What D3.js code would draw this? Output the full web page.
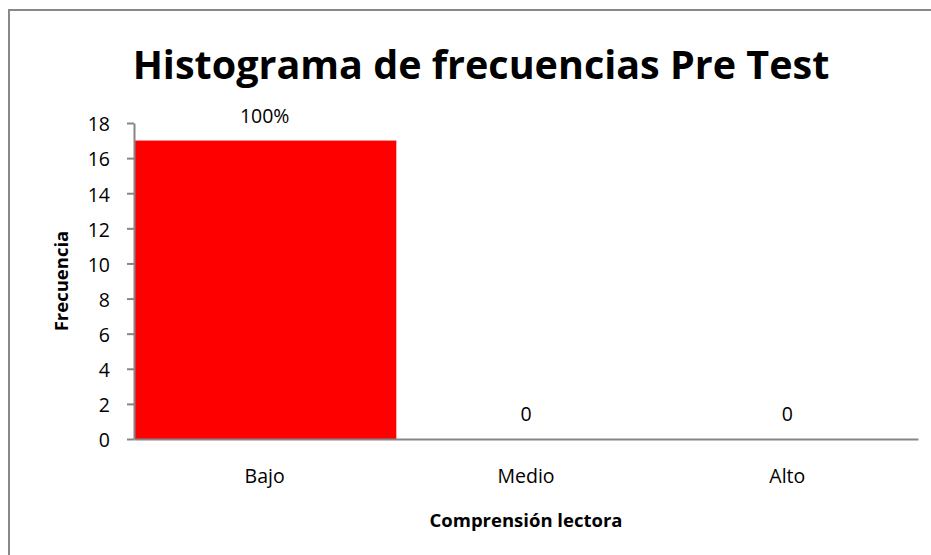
<!DOCTYPE html>
<html>
<head>
<meta charset="utf-8">
<script src="https://cdn.jsdelivr.net/npm/d3@7"></script>
<style>
  body { margin: 0; background: #fff; }
  svg { display: block; font-family: "Open Sans", "Noto Sans", sans-serif; }
</style>
</head>
<body>
<div id="chart"></div>
<script>
// data
var categories = ['Bajo', 'Medio', 'Alto'];
var frecuencias = [17, 0, 0];
var etiquetas = ['100%', '0', '0'];
var yTicks = [0, 2, 4, 6, 8, 10, 12, 14, 16, 18];

var W = 931, H = 555;
var plotLeft = 134, plotRight = 918, plotTop = 123, plotBottom = 439;

var svg = d3.select('#chart').append('svg')
            .attr('width', W)
            .attr('height', H);

svg.append('rect').attr('width', W).attr('height', H).attr('fill', '#fff');

// chart border (runs off right/bottom edge)
svg.append('rect')
   .attr('x', 9).attr('y', 10)
   .attr('width', W + 10).attr('height', H + 10)
   .attr('fill', 'none')
   .attr('stroke', '#888')
   .attr('stroke-width', 2);

var x = d3.scaleBand().domain(categories).range([plotLeft, plotRight]).padding(0);
var y = d3.scaleLinear().domain([0, 18]).range([plotBottom, plotTop]);

// bars
svg.append('g').selectAll('rect')
   .data(categories)
   .enter()
   .append('rect')
     .attr('x', function(d) { return x(d) + 1; })
     .attr('y', function(d, i) { return y(frecuencias[i]); })
     .attr('width', x.bandwidth())
     .attr('height', function(d, i) { return y(0) - y(frecuencias[i]); })
     .attr('fill', '#ff0000');

// y axis
var yAxis = svg.append('g')
   .attr('transform', 'translate(' + plotLeft + ',0)')
   .call(d3.axisLeft(y).tickValues(yTicks).tickSize(7).tickPadding(17).tickSizeOuter(0));
yAxis.select('.domain').attr('stroke', '#868686').attr('stroke-width', 2);
yAxis.selectAll('.tick line').attr('stroke', '#868686').attr('stroke-width', 2);
yAxis.selectAll('.tick text')
     .style('font-family', '"Open Sans", sans-serif')
     .style('font-size', '19.5px')
     .attr('dy', '0.4em')
     .attr('fill', '#000');

// x axis
var xAxis = svg.append('g')
   .attr('transform', 'translate(0,' + plotBottom + ')')
   .call(d3.axisBottom(x).tickSize(0).tickPadding(30).tickSizeOuter(0));
xAxis.select('.domain').attr('stroke', '#868686').attr('stroke-width', 2);
xAxis.selectAll('.tick text')
     .style('font-family', '"Open Sans", sans-serif')
     .style('font-size', '19.5px')
     .attr('fill', '#000');

// data labels
svg.append('g').selectAll('text')
   .data(categories)
   .enter()
   .append('text')
     .text(function(d, i) { return etiquetas[i]; })
     .attr('x', function(d) { return x(d) + x.bandwidth() / 2; })
     .attr('y', function(d, i) { return y(frecuencias[i]) - 18; })
     .attr('text-anchor', 'middle')
     .style('font-size', '19.5px')
     .attr('fill', '#000');

// title
svg.append('text')
   .text('Histograma de frecuencias Pre Test')
   .attr('x', 481).attr('y', 79)
   .attr('text-anchor', 'middle')
   .style('font-size', '39.5px')
   .style('font-weight', 'bold')
   .attr('fill', '#000');

// axis titles
svg.append('text')
   .text('Comprensión lectora')
   .attr('x', (plotLeft + plotRight) / 2).attr('y', 527)
   .attr('text-anchor', 'middle')
   .style('font-size', '18.5px')
   .style('font-weight', 'bold')
   .attr('fill', '#000');

svg.append('text')
   .text('Frecuencia')
   .attr('transform', 'translate(68,' + ((plotTop + plotBottom) / 2) + ') rotate(-90)')
   .attr('text-anchor', 'middle')
   .style('font-size', '18.5px')
   .style('font-weight', 'bold')
   .attr('fill', '#000');
</script>
</body>
</html>
